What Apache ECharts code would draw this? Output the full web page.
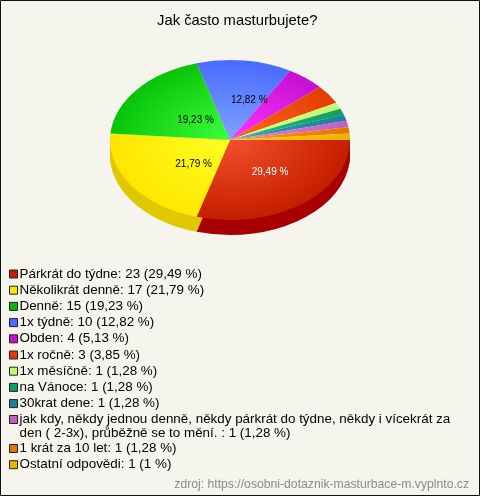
<!DOCTYPE html>
<html><head><meta charset="utf-8">
<style>html,body{margin:0;padding:0;background:#f5f5ee}#c{width:480px;height:496px}</style>
<script src="https://cdn.jsdelivr.net/npm/echarts@6/dist/echarts.min.js"></script>
</head><body><div id="c"></div>
<script>
const titleText = 'Jak často masturbujete?';
const sourceText = 'zdroj: https://osobni-dotaznik-masturbace-m.vyplnto.cz';
const categories = ['Párkrát do týdne','Několikrát denně','Denně','1x týdně','Obden','1x ročně','1x měsíčně','na Vánoce','30krat dene','jak kdy, někdy jednou denně, někdy párkrát do týdne, někdy i vícekrát za\nden ( 2-3x), průběžně se to mění. ','1 krát za 10 let','Ostatní odpovědi'];
const counts = [23,17,15,10,4,3,1,1,1,1,1,1];
const percents = ['29,49','21,79','19,23','12,82','5,13','3,85','1,28','1,28','1,28','1,28','1,28','1'];
const innerColors = ['#f4502c','#ffff22','#3cff3c','#7ea2ff','#ff34ff','#ff6a22','#d4ff88','#1fc088','#2f9cb4','#e080e0','#ff9a1a','#ffcc14'];
const edgeColors = ['#c41e00','#ffe600','#08c408','#4a6cff','#c410d0','#e43c00','#c4f870','#0ca060','#207f98','#c060c4','#e87400','#e8b400'];
const legendColors = ['#c41e00','#ffe600','#08b808','#4a6cff','#c410d0','#e43c00','#c4f870','#0ca060','#207f98','#c060c4','#e87400','#e8b400'];
const sideColors = ['#a80000','#e0c800'];
const labelColors = ['#fff','#000','#000','#000'];
const labelNudge = [[4,0],[13,2],[12,6],[12,0]];

const cx = 230, cy = 140, rx = 120, ry = 80, depth = 15;
const total = counts.reduce((a,b)=>a+b,0);
const F = '"Liberation Sans", Arial, sans-serif';
let acc = 0;
const spans = counts.map(v => { const s = acc; acc += v; return [s/total*Math.PI*2, acc/total*Math.PI*2]; });

const series = categories.map((name,i) => ({
  type:'custom', name, coordinateSystem:'none', silent:true, animation:false,
  z: i < 2 ? 2 : 3,
  itemStyle:{color:legendColors[i]},
  data:[[counts[i]]],
  renderItem(){
    const [a0,a1] = spans[i];
    const children = [];
    if (i < sideColors.length) {
      for (let d = depth; d >= 1; d--) children.push({
        type:'sector', x:cx, y:cy+d, scaleY:ry/rx,
        shape:{cx:0,cy:0,r:rx,r0:0,startAngle:a0,endAngle:a1,clockwise:true},
        style:{fill:sideColors[i]}
      });
    }
    children.push({
      type:'sector', x:cx, y:cy, scaleY:ry/rx, z2:10,
      shape:{cx:0,cy:0,r:rx,r0:0,startAngle:a0,endAngle:a1,clockwise:true},
      style:{fill:{type:'radial',x:0,y:0,r:rx,global:true,colorStops:[{offset:0,color:innerColors[i]},{offset:1,color:edgeColors[i]}]}}
    });
    if (i < labelColors.length) {
      const m = (a0+a1)/2;
      children.push({
        type:'text', z2:20,
        x: cx + 0.5*rx*Math.cos(m) + labelNudge[i][0],
        y: cy + 0.5*ry*Math.sin(m) + labelNudge[i][1],
        style:{text:percents[i]+' %',fill:labelColors[i],font:'10px '+F,align:'center',verticalAlign:'middle'}
      });
    }
    return {type:'group',children};
  }
}));

const legendBase = {
  orient:'vertical', left:9, itemWidth:8, itemHeight:8, itemGap:1.2, padding:0,
  icon:'rect', selectedMode:false,
  itemStyle:{borderColor:'#222',borderWidth:1},
  textStyle:{color:'#000',fontFamily:F,fontSize:13.4,lineHeight:15,padding:[0,0,0,-3]},
  formatter:n => { const i = categories.indexOf(n); return `${n}: ${counts[i]} (${percents[i]} %)`; }
};
const chart = echarts.init(document.getElementById('c'),null,{renderer:'canvas'});
chart.setOption({
  backgroundColor:'#f5f5ee',
  animation:false,
  title:{text:titleText,left:152,top:8,textStyle:{color:'#000',fontFamily:F,fontSize:14.8,fontWeight:'normal'}},
  legend:[
    {...legendBase,top:266.5,data:categories.slice(0,9)},
    {...legendBase,top:412,itemHeight:28,textStyle:{...legendBase.textStyle,lineHeight:14},data:[{name:categories[9],icon:'path://M0 0h0 M0 3h8v8H0z M0 28h0'}]},
    {...legendBase,top:441,data:categories.slice(10)}
  ],
  graphic:[
    {type:'rect',shape:{x:0.5,y:0.5,width:479,height:495},style:{fill:'none',stroke:'#111',lineWidth:1},silent:true,z:100},
    {type:'text',right:11,top:479,style:{text:sourceText,fill:'#8a8a8a',font:'12.2px '+F},silent:true}
  ],
  series
});
</script></body></html>
